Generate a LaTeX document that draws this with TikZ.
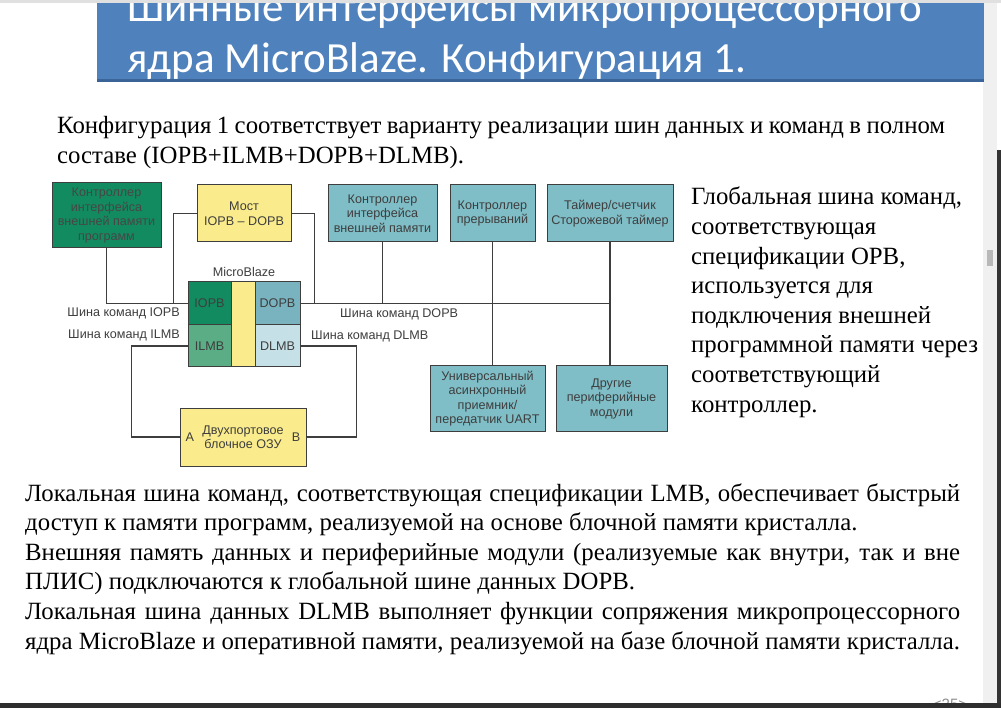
\documentclass[tikz,border=0pt]{standalone}
\usepackage{fontspec}
\setmainfont{Liberation Serif}
\newfontfamily\titlefont{Carlito}
\newfontfamily\diagfont{Liberation Sans}
\usetikzlibrary{calc,positioning}

\definecolor{titleblue}{RGB}{79,129,189}
\definecolor{titleedge}{RGB}{58,100,152}
\definecolor{darkgreen}{RGB}{18,139,96}
\definecolor{midgreen}{RGB}{90,173,132}
\definecolor{paleyellow}{RGB}{250,236,140}
\definecolor{tealbox}{RGB}{128,190,199}
\definecolor{dopbteal}{RGB}{122,179,192}
\definecolor{dlmbblue}{RGB}{198,224,231}
\definecolor{wire}{RGB}{62,62,62}
\definecolor{boxtext}{RGB}{62,62,62}

\tikzset{
	blk/.style={draw=wire, line width=1pt, align=center, text=boxtext, inner sep=1pt,
		font=\diagfont\fontsize{12.6}{14.5}\selectfont},
	busline/.style={draw=wire, line width=1.2pt},
	buslabel/.style={text=boxtext, inner sep=0pt, font=\diagfont\fontsize{12.6}{14.5}\selectfont},
	bodytext/.style={inner sep=0pt, anchor=base west, font=\fontsize{24.8}{29.6}\selectfont}
}

\begin{document}
\begin{tikzpicture}[x=1pt, y=-1pt]
			%%%%% START %%%%%
			
			\useasboundingbox (0, 0) rectangle (1001, 708);
			\fill[white] (0, 0) rectangle (1001, 708);
			\fill[black!6] (983, 0) rectangle (997, 708);
			\fill[black!80] (997, 150) rectangle (1001, 708);
			\fill[black!28] (987, 250) rectangle (993, 266);
			
			% title banner
			\fill[titleblue] (97, 0) rectangle (984, 82);
			\fill[titleedge] (97, 79) rectangle (984, 82);
			\node[anchor=base west, inner sep=0pt, text=white, font=\titlefont\fontsize{43}{50}\selectfont] (title1) at (127, 22) {Шинные интерфейсы микропроцессорного};
			\node[anchor=base west, inner sep=0pt, text=white, font=\titlefont\fontsize{43}{50}\selectfont] (title2) at (127, 73) {ядра MicroBlaze. Конфигурация 1.};
			\fill[black!12] (0, 0) rectangle (1001, 3);
			
			% top paragraph
			\node[bodytext] (top1) at (57, 134) {\makebox[888pt][s]{Конфигурация 1 соответствует варианту реализации шин данных и команд в полном}};
			\node[bodytext] (top2) at (57, 164) {составе (IOPB+ILMB+DOPB+DLMB).};
			
			% right column
			\foreach \ln [count=\i from 0] in {{Глобальная шина команд,}, соответствующая, {спецификации ОРВ,}, {используется для}, {подключения внешней}, {программной памяти через}, соответствующий, контроллер.}
				\node[bodytext] (side\i) at (691, 205+29.6*\i) {\ln};
			
			% bottom paragraphs
			\node[bodytext] (bot1) at (25, 501) {\makebox[935pt][s]{Локальная шина команд, соответствующая спецификации LMB, обеспечивает быстрый}};
			\node[bodytext] (bot2) at (25, 530.6) {доступ к памяти программ, реализуемой на основе блочной памяти кристалла.};
			\node[bodytext] (bot3) at (25, 560.2) {\makebox[935pt][s]{Внешняя память данных и периферийные модули (реализуемые как внутри, так и вне}};
			\node[bodytext] (bot4) at (25, 589.8) {ПЛИС) подключаются к глобальной шине данных DOPB.};
			\node[bodytext] (bot5) at (25, 619.4) {\makebox[935pt][s]{Локальная шина данных DLMB выполняет функции сопряжения микропроцессорного}};
			\node[bodytext] (bot6) at (25, 649) {ядра MicroBlaze и оперативной памяти, реализуемой на базе блочной памяти кристалла.};
			
			% upper row of blocks
			\node[blk, fill=darkgreen, text=black!72, minimum width=109, minimum height=65] (ctrlprog) at (106.5, 215.5) {Контроллер\\интерфейса\\внешней памяти\\программ};
			\node[blk, fill=paleyellow, minimum width=94, minimum height=57] (bridge) at (244, 213.5) {Мост\\IOPB – DOPB};
			\node[blk, fill=tealbox, minimum width=109, minimum height=57] (memctl) at (382.5, 213.5) {Контроллер\\интерфейса\\внешней памяти};
			\node[blk, fill=tealbox, minimum width=85, minimum height=57] (intc) at (492.5, 213.5) {Контроллер\\прерываний};
			\node[blk, fill=tealbox, minimum width=126, minimum height=57] (timer) at (610, 213.5) {Таймер/счетчик\\Сторожевой таймер};
			
			% MicroBlaze core
			\node[buslabel] (mblabel) at (244, 272) {MicroBlaze};
			\node[blk, fill=paleyellow, minimum width=24, minimum height=85] (mbcore) at (243, 324.5) {};
			\node[blk, fill=darkgreen, minimum width=43, minimum height=43] (iopb) at (209.5, 303.5) {IOPB};
			\node[blk, fill=midgreen, minimum width=43, minimum height=42] (ilmb) at (209.5, 346) {ILMB};
			\node[blk, fill=dopbteal, minimum width=45, minimum height=43] (dopb) at (277.5, 303.5) {DOPB};
			\node[blk, fill=dlmbblue, minimum width=45, minimum height=42] (dlmb) at (277.5, 346) {DLMB};
			
			% lower blocks
			\node[blk, fill=tealbox, minimum width=115, minimum height=65] (uart) at (487.5, 398.5) {Универсальный\\асинхронный\\приемник/\\передатчик UART};
			\node[blk, fill=tealbox, minimum width=111, minimum height=65] (periph) at (611.5, 398.5) {Другие\\периферийные\\модули};
			\node[blk, fill=paleyellow, minimum width=126, minimum height=58] (ram) at (243, 437) {Двухпортовое\\блочное ОЗУ};
			\node[buslabel, right=6pt of ram.west] (porta) {А};
			\node[buslabel, left=6pt of ram.east] (portb) {В};
			
			% bus labels
			\node[buslabel, anchor=east] (liopb) at (180, 313) {Шина команд IOPB};
			\node[buslabel, anchor=east] (lilmb) at (180, 335) {Шина команд ILMB};
			\node[buslabel, anchor=west] (ldopb) at (340, 314) {Шина команд DOPB};
			\node[buslabel, anchor=west] (ldlmb) at (311, 336) {Шина команд DLMB};
			
			% buses
			\draw[busline] (ctrlprog.south) |- (iopb.west);
			\draw[busline] (bridge.west) -| ($(iopb.west)+(-14, 0)$);
			\draw[busline] (bridge.east) -| ($(dopb.east)+(14, 0)$);
			\draw[busline] (dopb.east) -- (timer.south |- dopb.east);
			\draw[busline] (memctl.south) -- (memctl.south |- dopb.east);
			\draw[busline] (intc.south) -- (intc.south |- uart.north);
			\draw[busline] (timer.south) -- (timer.south |- periph.north);
			\draw[busline] (ilmb.west) -- ++(-56, 0) |- (ram.west);
			\draw[busline] (dlmb.east) -- ++(56, 0) |- (ram.east);
			
			% page number and window edge
			\node[anchor=base, text=black!45, font=\diagfont\fontsize{15}{18}\selectfont] (pagenum) at (950, 709) {<25>};
			\fill[black!82] (0, 703) rectangle (1001, 708);
			
			%%%%% END %%%%%
\end{tikzpicture}
\end{document}
